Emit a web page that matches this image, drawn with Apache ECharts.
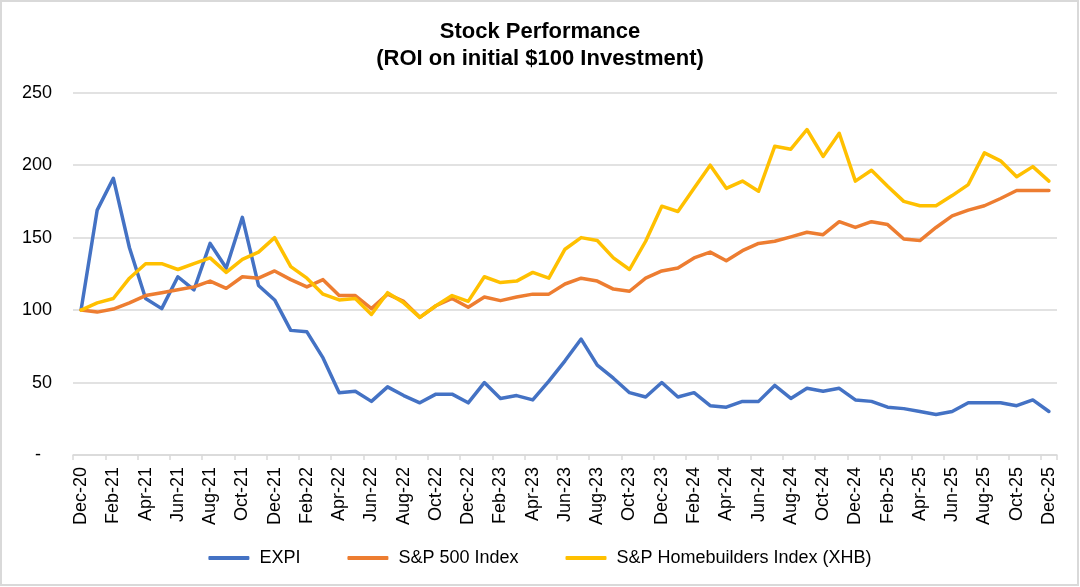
<!DOCTYPE html>
<html>
<head>
<meta charset="utf-8">
<script src="https://cdn.jsdelivr.net/npm/echarts@6/dist/echarts.min.js"></script>
<style>
html,body{margin:0;padding:0;background:#fff;}
#c{width:1080px;height:587px;}
</style>
</head>
<body>
<div id="c"></div>
<script>
const categories = ['Dec-20','Jan-21','Feb-21','Mar-21','Apr-21','May-21','Jun-21','Jul-21','Aug-21','Sep-21','Oct-21','Nov-21',
  'Dec-21','Jan-22','Feb-22','Mar-22','Apr-22','May-22','Jun-22','Jul-22','Aug-22','Sep-22','Oct-22','Nov-22',
  'Dec-22','Jan-23','Feb-23','Mar-23','Apr-23','May-23','Jun-23','Jul-23','Aug-23','Sep-23','Oct-23','Nov-23',
  'Dec-23','Jan-24','Feb-24','Mar-24','Apr-24','May-24','Jun-24','Jul-24','Aug-24','Sep-24','Oct-24','Nov-24',
  'Dec-24','Jan-25','Feb-25','Mar-25','Apr-25','May-25','Jun-25','Jul-25','Aug-25','Sep-25','Oct-25','Nov-25','Dec-25'];

const expi = [100,169,191,143,108,101,123,114,146,129,164,117,
  107,86,85,67,43,44,37,47,41,36,42,42,
  36,50,39,41,38,51,65,80,62,53,43,40,
  50,40,43,34,33,37,37,48,39,46,44,46,
  38,37,33,32,30,28,30,36,36,36,34,38,30];

const sp500 = [100,98.6,100.7,105,110,112,114,116,120,115,123,122,
  127,121,116,121,110,110,101,111,106,95,103,108,
  102,109,106.5,109,111,111,118,122,120,114.5,113,122,
  127,129,136,140,134,141,146,147.5,150.5,153.7,152,161,
  157,161,159,149,148,157,165,169,172,177,182.5,182.5,182.5];

const xhb = [100,105,108,122,132,132,128,132,136,126,135,140,
  150,130,122,111,107,108,97,112,105,95,103,110,
  106,123,119,120,126,122,142,150,148,136,128,147.5,
  171.7,168,184,200,184,189,182,213,211,224.6,206,222,
  189,196.5,185.5,175,172,172,179,186.6,208.5,203,192,199,189];

const yTicks = {min: 0, max: 250, interval: 50};

const chart = echarts.init(document.getElementById('c'), null, {renderer: 'canvas'});
const font = 'Liberation Sans, Arial, sans-serif';
const lineSeries = (name, data, color) => ({
  name, type: 'line', data, symbol: 'none', showSymbol: false,
  lineStyle: {color, width: 3.5, cap: 'round', join: 'round'},
  itemStyle: {color}, z: 3
});

chart.setOption({
  animation: false,
  backgroundColor: '#fff',
  graphic: [{
    type: 'rect', shape: {x: 1, y: 1, width: 1077, height: 584},
    style: {fill: 'none', stroke: '#d9d9d9', lineWidth: 2}, silent: true, z: -1
  }],
  title: {
    text: 'Stock Performance\n(ROI on initial $100 Investment)',
    left: 'center', top: 13,
    textStyle: {fontFamily: font, fontSize: 22, fontWeight: 'bold', color: '#000', lineHeight: 27}
  },
  legend: {
    bottom: 15, left: 'center',
    icon: 'roundRect', itemWidth: 41, itemHeight: 4, itemGap: 47,
    textStyle: {fontFamily: font, fontSize: 18, color: '#000', padding: [0, 0, 0, 5]},
    data: ['EXPI', 'S&P 500 Index', 'S&P Homebuilders Index (XHB)']
  },
  grid: {left: 73, right: 23, top: 92.7, bottom: 132},
  xAxis: {
    type: 'category', data: categories, boundaryGap: true,
    axisLine: {lineStyle: {color: '#d9d9d9', width: 1.5}},
    axisTick: {show: true, interval: 1, length: 5, lineStyle: {color: '#d9d9d9', width: 1.5}},
    axisLabel: {interval: 1, rotate: 90, margin: 12, fontFamily: font, fontSize: 18, color: '#000'},
    splitLine: {show: false}
  },
  yAxis: {
    type: 'value', min: yTicks.min, max: yTicks.max, interval: yTicks.interval,
    axisLine: {show: false}, axisTick: {show: false},
    axisLabel: {
      margin: 21, fontFamily: font, fontSize: 18, color: '#000',
      formatter: v => v === 0 ? '{d|-}' : String(v),
      rich: {d: {fontFamily: font, fontSize: 18, color: '#000', padding: [0, 11, 0, 0]}}
    },
    splitLine: {lineStyle: {color: '#d9d9d9', width: 1.5}}
  },
  series: [
    lineSeries('EXPI', expi, '#4472C4'),
    lineSeries('S&P 500 Index', sp500, '#ED7D31'),
    lineSeries('S&P Homebuilders Index (XHB)', xhb, '#FFC000')
  ]
});
</script>
</body>
</html>
